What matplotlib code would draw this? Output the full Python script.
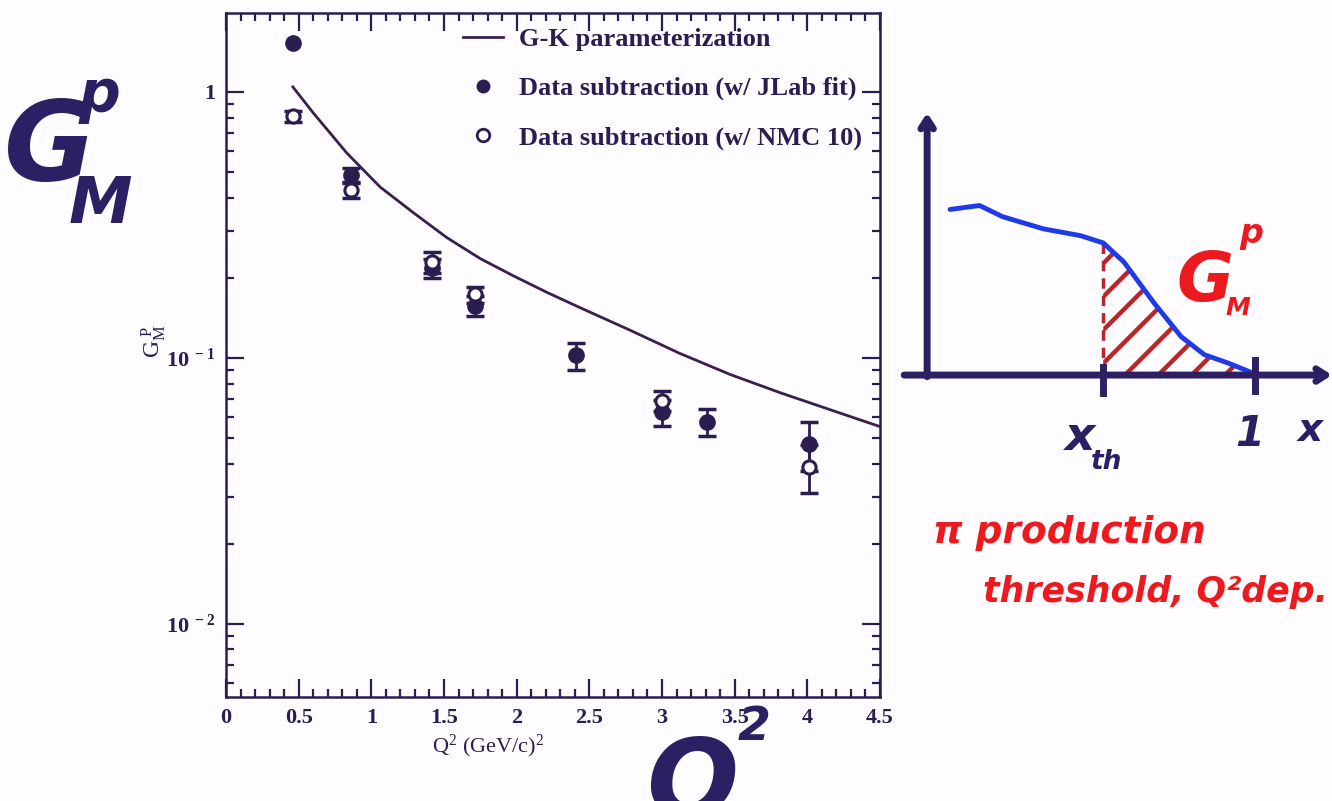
import math
import matplotlib
matplotlib.use('Agg')
import matplotlib.pyplot as plt
from matplotlib.ticker import MultipleLocator, LogLocator, FuncFormatter, NullFormatter
from matplotlib.lines import Line2D

plt.rcParams.update({
    'font.family': 'Liberation Serif',
    'font.weight': 'bold',
    'mathtext.fontset': 'custom',
    'mathtext.rm': 'Liberation Serif:bold',
    'mathtext.it': 'Liberation Serif:italic:bold',
    'mathtext.bf': 'Liberation Serif:bold',
    'hatch.linewidth': 3.2,
})

INK = '#2b1d4f'
CURVE = '#3a1f4a'
PEN = '#2c1f63'
BLUE = '#1f3be8'
RED = '#ec1a1e'
HATCH = '#b8262a'

# G-K parameterization
gk_q2 = [0.46, 0.60, 0.83, 1.06, 1.29, 1.52, 1.75, 1.98, 2.21, 2.44,
         2.78, 3.12, 3.47, 3.81, 4.16, 4.5]
gk_gm = [1.044, 0.834, 0.590, 0.439, 0.351, 0.283, 0.236, 0.203, 0.176, 0.154,
         0.127, 0.104, 0.0865, 0.0740, 0.0637, 0.0551]

# data subtraction with JLab fit (0 = no visible error bar)
jlab_q2 = [0.46, 0.86, 1.42, 1.71, 2.41, 3.0, 3.31, 4.01]
jlab_gm = [1.53, 0.488, 0.218, 0.157, 0.102, 0.0626, 0.0574, 0.0475]
jlab_err = [0.0, 0.03, 0.018, 0.014, 0.012, 0.007, 0.0067, 0.010]

# data subtraction with NMC 10
nmc_q2 = [0.46, 0.86, 1.42, 1.71, 3.0, 4.01]
nmc_gm = [0.81, 0.428, 0.229, 0.173, 0.069, 0.0389]
nmc_err = [0.04, 0.028, 0.02, 0.012, 0.006, 0.008]

# schematic structure function vs x
sk_x = [0.07, 0.16, 0.23, 0.354, 0.468, 0.537, 0.60, 0.692, 0.775, 0.846, 0.917, 0.994]
sk_y = [0.505, 0.517, 0.483, 0.446, 0.425, 0.403, 0.345, 0.22, 0.117, 0.062, 0.037, 0.006]
x_th = 0.537

W, H = 1332, 801
fig = plt.figure(figsize=(W / 100, H / 100), dpi=100)
fig.patch.set_facecolor('#fefcfe')


def fx(px):
    return px / W


def fy(py):
    return 1 - py / H


ax = fig.add_axes([fx(226), fy(697), (880 - 226) / W, (697 - 13) / H])
ax.set_facecolor('none')

ax.plot(gk_q2, gk_gm, color=CURVE, lw=2.0)

bar_style = dict(fmt='none', ecolor=INK, elinewidth=2, capsize=6.5, capthick=2.5)
jl = [i for i, e in enumerate(jlab_err) if e > 0]
ax.errorbar([jlab_q2[i] for i in jl], [jlab_gm[i] for i in jl],
            yerr=[jlab_err[i] for i in jl], **bar_style)
ax.errorbar(nmc_q2, nmc_gm, yerr=nmc_err, **bar_style)
ax.plot(jlab_q2, jlab_gm, 'o', ms=11, mfc=INK, mec=INK, zorder=4)
ax.plot(nmc_q2, nmc_gm, 'o', ms=9.5, mfc='white', mec=INK, mew=2.2, zorder=4)

ax.set_yscale('log')
ax.set_xlim(0, 4.5)
ax.set_ylim(0.0053, 1.98)

ax.xaxis.set_major_locator(MultipleLocator(0.5))
ax.xaxis.set_minor_locator(MultipleLocator(0.1))
ax.xaxis.set_major_formatter(FuncFormatter(lambda v, p: '%g' % v))
ax.yaxis.set_major_locator(LogLocator(base=10))
ax.yaxis.set_minor_locator(LogLocator(base=10, subs=range(2, 10)))
ax.yaxis.set_minor_formatter(NullFormatter())


def ylab(v, p):
    if abs(v - 1) < 1e-9:
        return '1'
    return r'$\mathregular{10^{\ %d}}$' % int(round(math.log10(v)))


ax.yaxis.set_major_formatter(FuncFormatter(ylab))
ax.tick_params(which='both', direction='in', top=True, right=True,
               color=INK, width=1.6, labelcolor=INK, labelsize=16)
ax.tick_params(which='major', length=13, pad=8)
ax.tick_params(which='minor', length=6)
for s in ax.spines.values():
    s.set_color(INK)
    s.set_linewidth(1.8)

ax.set_xlabel(r'$\mathregular{Q^2\ (GeV/c)^2}$', fontsize=16, color=INK)
ax.xaxis.set_label_coords((488 - 226) / 654, -0.052)
ax.set_ylabel(r'$\mathregular{G_M^{\ P}}$', fontsize=17, color=INK)
ax.yaxis.set_label_coords(-0.088, 0.52)

handles = [
    Line2D([], [], color=CURVE, lw=2.0),
    Line2D([], [], ls='none', marker='o', ms=9, mfc=INK, mec=INK),
    Line2D([], [], ls='none', marker='o', ms=9, mfc='white', mec=INK, mew=2),
]
labels = ['G-K parameterization', 'Data subtraction (w/ JLab fit)',
          'Data subtraction (w/ NMC 10)']
leg = ax.legend(handles, labels, loc='upper right', frameon=False, fontsize=19,
                handlelength=1.5, handletextpad=0.6, labelspacing=0.97,
                bbox_to_anchor=(1.0, 1.006), borderaxespad=0.3)
for t in leg.get_texts():
    t.set_color(INK)

# handwritten notes beside the plot
hand = dict(family='DejaVu Sans', style='oblique', ha='center', va='center')
fig.text(fx(50), fy(150), 'G', fontsize=80, color=PEN, **hand)
fig.text(fx(99), fy(96), 'p', fontsize=42, color=PEN, **hand)
fig.text(fx(100), fy(205), 'M', fontsize=46, color=PEN, **hand)
fig.text(fx(692), fy(786), 'Q', fontsize=78, color=PEN, weight='bold', **hand)
fig.text(fx(754), fy(728), '2', fontsize=34, color=PEN, weight='bold', **hand)

# schematic on the right
sk = fig.add_axes([fx(895), fy(480), 437 / W, 385 / H])
sk.set_xlim(-0.098, 1.235)
sk.set_ylim(-0.32, 0.854)
sk.axis('off')
sk.patch.set_alpha(0)

arrow = dict(arrowstyle='->,head_length=0.7,head_width=0.45', lw=5, color=PEN,
             shrinkA=0, shrinkB=0)
sk.annotate('', xy=(0.0, 0.80), xytext=(0.0, -0.005), arrowprops=arrow)
sk.annotate('', xy=(1.235, 0.0), xytext=(-0.07, 0.0), arrowprops=arrow)

xs = [v for v in sk_x if v >= x_th]
ys = [sk_y[i] for i, v in enumerate(sk_x) if v >= x_th]
sk.fill_between(xs, 0, ys, facecolor='none', edgecolor=HATCH, hatch='/', lw=0)
sk.plot([x_th, x_th], [0, 0.403], color=HATCH, lw=2.5, ls=(0, (3, 2)))
sk.plot(sk_x, sk_y, color=BLUE, lw=3.5, solid_capstyle='round')
sk.plot([x_th, x_th], [-0.055, 0.025], color=PEN, lw=5)
sk.plot([1.0, 1.0], [-0.05, 0.045], color=PEN, lw=5)

fig.text(fx(1080), fy(437), 'x', fontsize=34, color=PEN, weight='bold', **hand)
fig.text(fx(1107), fy(462), 'th', fontsize=19, color=PEN, weight='bold', **hand)
fig.text(fx(1250), fy(434), '1', fontsize=30, color=PEN, weight='bold', **hand)
fig.text(fx(1310), fy(430), 'x', fontsize=28, color=PEN, weight='bold', **hand)

fig.text(fx(1205), fy(282), 'G', fontsize=50, color=RED, **hand)
fig.text(fx(1251), fy(233), 'p', fontsize=24, color=RED, weight='bold', **hand)
fig.text(fx(1238), fy(308), 'M', fontsize=18, color=RED, weight='bold', **hand)

red = dict(family='DejaVu Sans', style='oblique', weight='bold', color=RED,
           ha='left', va='center')
fig.text(fx(933), fy(533), '\u03c0 production', fontsize=27, **red)
fig.text(fx(983), fy(592), 'threshold, Q\u00b2dep.', fontsize=25, **red)

fig.savefig('out.png', dpi=100, facecolor=fig.get_facecolor())
